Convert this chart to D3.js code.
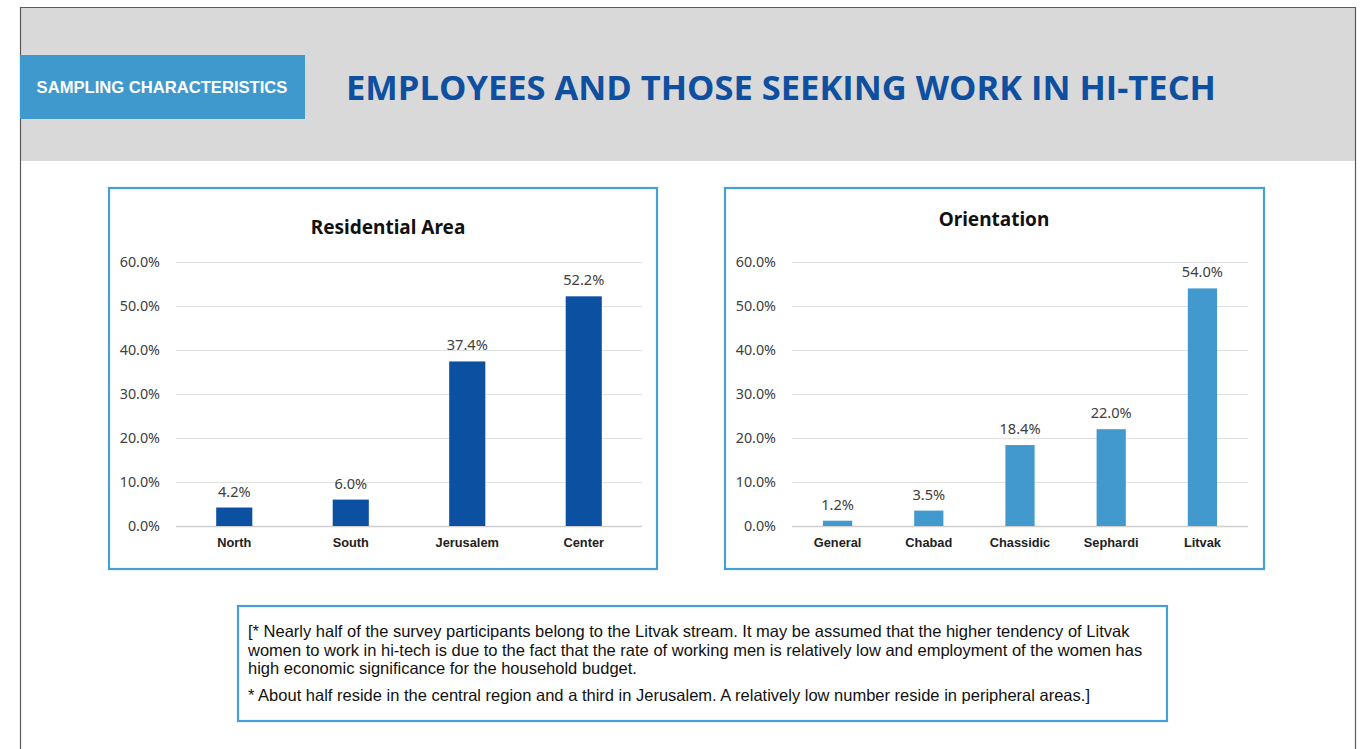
<!DOCTYPE html>
<html>
<head>
<meta charset="utf-8">
<script src="https://cdn.jsdelivr.net/npm/d3@7"></script>
<style>
  html, body { margin: 0; padding: 0; background: #fff; }
  svg { display: block; }
</style>
</head>
<body>
<svg id="page" width="1368" height="749"></svg>
<script>
// Residential area of respondents
const areaCategories = ["North", "South", "Jerusalem", "Center"];
const areaValues = [4.2, 6.0, 37.4, 52.2];

// Religious orientation of respondents
const orientationCategories = ["General", "Chabad", "Chassidic", "Sephardi", "Litvak"];
const orientationValues = [1.2, 3.5, 18.4, 22.0, 54.0];

// Shared y-axis ticks (percent)
const yTicks = [0, 10, 20, 30, 40, 50, 60];

const noteLines = [
  "[* Nearly half of the survey participants belong to the Litvak stream. It may be assumed that the higher tendency of Litvak",
  "women to work in hi-tech is due to the fact that the rate of working men is relatively low and employment of the women has",
  "high economic significance for the household budget."
];
const noteLine2 = "* About half reside in the central region and a third in Jerusalem. A relatively low number reside in peripheral areas.]";

const svg = d3.select("#page");

// Page frame and grey header band
svg.append("rect").attr("x", 20).attr("y", 7).attr("width", 1335).attr("height", 154).attr("fill", "#d9d9d9");
svg.append("path")
  .attr("d", "M20.5,749 V7.5 H1355.5 V749")
  .attr("fill", "none").attr("stroke", "#5a5a5a").attr("stroke-width", 1.2);

// Section tag
svg.append("rect").attr("x", 20).attr("y", 55).attr("width", 285).attr("height", 64).attr("fill", "#4099cd");
svg.append("text")
  .attr("x", 162).attr("y", 93)
  .attr("text-anchor", "middle")
  .attr("font-family", "Liberation Sans, Arial, sans-serif")
  .attr("font-weight", 700).attr("font-size", 16.6)
  .attr("fill", "#ffffff")
  .text("SAMPLING CHARACTERISTICS");

// Main title
svg.append("text")
  .attr("x", 346).attr("y", 100)
  .attr("font-family", "Open Sans, sans-serif")
  .attr("font-weight", 700).attr("font-size", 34)
  .attr("textLength", 870).attr("lengthAdjust", "spacingAndGlyphs")
  .attr("fill", "#0e4fa0")
  .text("EMPLOYEES AND THOSE SEEKING WORK IN HI-TECH");

function barChart(opts) {
  const g = svg.append("g");
  // panel border
  g.append("rect")
    .attr("x", opts.box[0]).attr("y", opts.box[1])
    .attr("width", opts.box[2]).attr("height", opts.box[3])
    .attr("fill", "#fff").attr("stroke", "#45a0d6").attr("stroke-width", 2.2);

  g.append("text")
    .attr("x", opts.titleX).attr("y", opts.titleY)
    .attr("text-anchor", "middle")
    .attr("font-family", "Noto Sans, sans-serif")
    .attr("font-weight", 700).attr("font-size", 19)
    .attr("fill", "#111")
    .text(opts.title);

  const x = d3.scaleBand().domain(opts.categories).range([opts.x0, opts.x1]).paddingInner(opts.pad).paddingOuter(opts.pad / 2);
  const y = d3.scaleLinear().domain([0, 60]).range([526, 262]);

  // grid lines
  g.append("g").selectAll("line").data(yTicks).join("line")
    .attr("x1", opts.x0).attr("x2", opts.x1)
    .attr("y1", d => y(d) + 0.5).attr("y2", d => y(d) + 0.5)
    .attr("stroke", d => d === 0 ? "#cfcfcf" : "#e2e2e2")
    .attr("stroke-width", d => d === 0 ? 1.5 : 1);

  // y axis labels
  const yAxis = d3.axisLeft(y).tickValues(yTicks).tickSize(0).tickPadding(0)
    .tickFormat(d => d3.format(".1f")(d) + "%");
  const ya = g.append("g").attr("transform", `translate(${opts.yLabelX},0)`).call(yAxis);
  ya.select(".domain").remove();
  ya.selectAll("text")
    .attr("font-family", "Noto Sans, sans-serif").attr("font-size", 14.3)
    .attr("fill", "#404040");

  // bars
  g.append("g").selectAll("rect").data(opts.values).join("rect")
    .attr("x", (d, i) => x(opts.categories[i]))
    .attr("width", x.bandwidth())
    .attr("y", d => y(d))
    .attr("height", d => y(0) - y(d))
    .attr("fill", opts.color);

  // value labels
  g.append("g").selectAll("text").data(opts.values).join("text")
    .attr("x", (d, i) => x(opts.categories[i]) + x.bandwidth() / 2)
    .attr("y", d => y(d) - 11)
    .attr("text-anchor", "middle")
    .attr("font-family", "Noto Sans, sans-serif").attr("font-size", 14.6)
    .attr("fill", "#404040")
    .text(d => d3.format(".1f")(d) + "%");

  // category labels
  const xAxis = d3.axisBottom(x).tickSize(0).tickPadding(0);
  const xa = g.append("g").attr("transform", "translate(0,547)").call(xAxis);
  xa.select(".domain").remove();
  xa.selectAll("text")
    .attr("dy", 0)
    .attr("font-family", "Liberation Sans, Arial, sans-serif")
    .attr("font-weight", 700).attr("font-size", 12.8)
    .attr("fill", "#222");
}

barChart({
  box: [109, 188, 548, 381],
  title: "Residential Area", titleX: 388, titleY: 234,
  categories: areaCategories, values: areaValues,
  x0: 176, x1: 642, pad: 0.69, yLabelX: 160,
  color: "#0c51a1"
});

barChart({
  box: [725, 188, 539, 381],
  title: "Orientation", titleX: 994, titleY: 226,
  categories: orientationCategories, values: orientationValues,
  x0: 792, x1: 1248, pad: 0.68, yLabelX: 776,
  color: "#4199ce"
});

// Explanatory note
svg.append("rect").attr("x", 238).attr("y", 606).attr("width", 929).attr("height", 115)
  .attr("fill", "#fff").attr("stroke", "#45a0d6").attr("stroke-width", 2.2);
const note = svg.append("text")
  .attr("font-family", "Liberation Sans, Arial, sans-serif")
  .attr("font-size", 16.5).attr("fill", "#111");
noteLines.forEach((t, i) => {
  note.append("tspan").attr("x", 248).attr("y", 637 + i * 18.5).text(t);
});
note.append("tspan").attr("x", 248).attr("y", 701).text(noteLine2);
</script>
</body>
</html>
